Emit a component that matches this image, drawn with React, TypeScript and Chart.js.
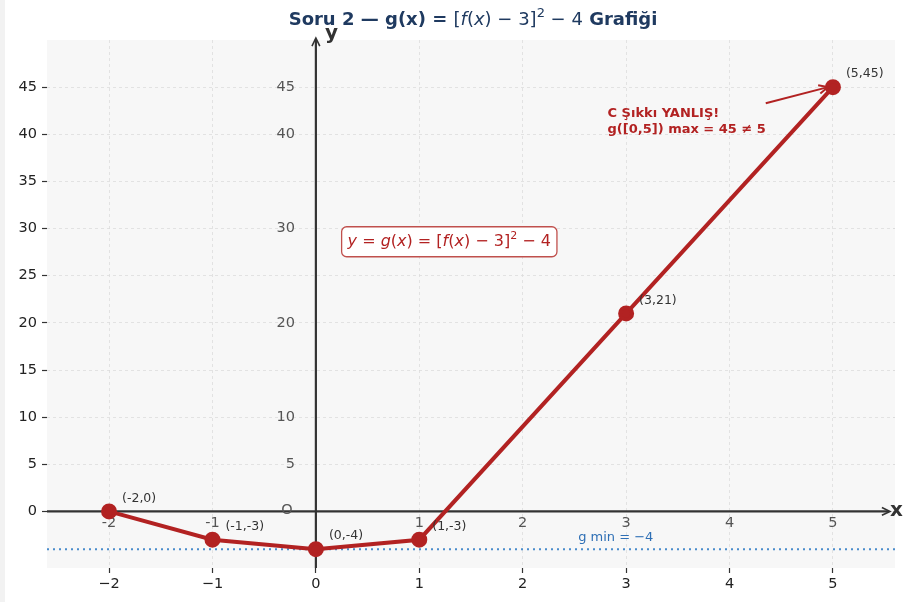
import React, { useEffect, useRef } from "react";
import { Chart, registerables } from "chart.js";
Chart.register(...registerables);

const xValues = [-2, -1, 0, 1, 3, 5];
const gValues = [0, -3, -4, -3, 21, 45];
const pointLabels = ["(-2,0)", "(-1,-3)", "(0,-4)", "(1,-3)", "(3,21)", "(5,45)"];
const xTicks = [-2, -1, 0, 1, 2, 3, 4, 5];
const yTicks = [0, 5, 10, 15, 20, 25, 30, 35, 40, 45];
const innerXLabels = [-2, -1, 1, 2, 3, 4, 5];
const innerYLabels = [5, 10, 20, 30, 40, 45];
const gMin = -4;
const xRange = [-2.6, 5.6];
const yRange = [-6, 50];
const annotationLines = ["C Şıkkı YANLIŞ!", "g([0,5]) max = 45 ≠ 5"];
const annotationPos = { x: 2.82, y: 42.2 };
const arrowTail = { x: 4.35, y: 43.3 };
const formulaPos = { x: 1.29, y: 28.6 };

const FAM = '"DejaVu Sans", sans-serif';
const RED = "#b22222";

type Part = { t: string; font: string; dy?: number };

function drawParts(ctx: CanvasRenderingContext2D, parts: Part[], cx: number, cy: number) {
  const widths = parts.map((p) => {
    ctx.font = p.font;
    return ctx.measureText(p.t).width;
  });
  const total = widths.reduce((a, b) => a + b, 0);
  let x = cx - total / 2;
  ctx.textAlign = "left";
  ctx.textBaseline = "middle";
  parts.forEach((p, i) => {
    ctx.font = p.font;
    ctx.fillText(p.t, x, cy + (p.dy || 0));
    x += widths[i];
  });
  return total;
}

function mathParts(size: number, leading: Part[], trailing: Part[], withY: boolean): Part[] {
  const r = `${size}px ${FAM}`;
  const it = `italic ${size}px ${FAM}`;
  const sup = `${Math.round(size * 0.7)}px ${FAM}`;
  const core: Part[] = [];
  if (withY) {
    core.push({ t: "y", font: it }, { t: " = ", font: r }, { t: "g", font: it }, { t: "(", font: r }, { t: "x", font: it }, { t: ") = ", font: r });
  }
  core.push(
    { t: "[", font: r },
    { t: "f", font: it },
    { t: "(", font: r },
    { t: "x", font: it },
    { t: ") − 3]", font: r },
    { t: "2", font: sup, dy: -size * 0.38 },
    { t: " − 4", font: r }
  );
  return [...leading, ...core, ...trailing];
}

function arrowHead(ctx: CanvasRenderingContext2D, x1: number, y1: number, x2: number, y2: number, len: number, filled: boolean) {
  const a = Math.atan2(y2 - y1, x2 - x1);
  const sp = 0.45;
  ctx.beginPath();
  ctx.moveTo(x2 - len * Math.cos(a - sp), y2 - len * Math.sin(a - sp));
  ctx.lineTo(x2, y2);
  ctx.lineTo(x2 - len * Math.cos(a + sp), y2 - len * Math.sin(a + sp));
  if (filled) {
    ctx.closePath();
    ctx.fill();
  } else ctx.stroke();
}

const overlay = {
  id: "overlay",
  beforeDraw(chart: any) {
    const { ctx, chartArea: ca } = chart;
    ctx.save();
    ctx.fillStyle = "#ffffff";
    ctx.fillRect(0, 0, chart.width, chart.height);
    ctx.fillStyle = "#f2f2f2";
    ctx.fillRect(0, 0, 5, chart.height);
    ctx.fillStyle = "#f7f7f7";
    ctx.fillRect(ca.left, ca.top, ca.right - ca.left, ca.bottom - ca.top);
    ctx.restore();
  },
  beforeDatasetsDraw(chart: any) {
    const { ctx, chartArea: ca, scales } = chart;
    const xs = scales.x, ys = scales.y;
    const ox = xs.getPixelForValue(0), oy = ys.getPixelForValue(0);
    ctx.save();
    ctx.strokeStyle = "#333333";
    ctx.fillStyle = "#333333";
    ctx.lineWidth = 2.2;
    ctx.beginPath();
    ctx.moveTo(ca.left, oy);
    ctx.lineTo(ca.right - 6, oy);
    ctx.stroke();
    ctx.lineWidth = 1.6;
    arrowHead(ctx, ca.left, oy, ca.right - 5, oy, 9, false);
    ctx.lineWidth = 2.2;
    ctx.beginPath();
    ctx.moveTo(ox, ca.bottom);
    ctx.lineTo(ox, ca.top - 1);
    ctx.stroke();
    ctx.lineWidth = 1.6;
    arrowHead(ctx, ox, ca.bottom, ox, ca.top - 2, 9, false);
    ctx.fillStyle = "#555555";
    ctx.font = `14.5px ${FAM}`;
    ctx.textAlign = "center";
    ctx.textBaseline = "middle";
    innerXLabels.forEach((v) => {
      ctx.fillText(String(v), xs.getPixelForValue(v), oy + 12);
    });
    ctx.textAlign = "right";
    innerYLabels.forEach((v) => {
      ctx.fillText(String(v), ox - 21, ys.getPixelForValue(v));
    });
    ctx.textAlign = "center";
    ctx.fillText("O", ox - 29, oy - 1);
    ctx.restore();
  },
  afterDatasetsDraw(chart: any) {
    const { ctx, chartArea: ca, scales } = chart;
    const xs = scales.x, ys = scales.y;
    const ox = xs.getPixelForValue(0), oy = ys.getPixelForValue(0);
    ctx.save();
    ctx.fillStyle = "#333333";
    ctx.font = `12.5px ${FAM}`;
    ctx.textAlign = "left";
    ctx.textBaseline = "middle";
    xValues.forEach((x, i) => {
      ctx.fillText(pointLabels[i], xs.getPixelForValue(x) + 13, ys.getPixelForValue(gValues[i]) - 13);
    });
    ctx.fillStyle = "#2e6fb5";
    ctx.font = `13px ${FAM}`;
    ctx.textAlign = "center";
    ctx.fillText("g min = −4", xs.getPixelForValue(2.9), ys.getPixelForValue(gMin) - 12);
    ctx.fillStyle = RED;
    ctx.font = `bold 13px ${FAM}`;
    ctx.textAlign = "left";
    const ax = xs.getPixelForValue(annotationPos.x), ay = ys.getPixelForValue(annotationPos.y);
    annotationLines.forEach((l, i) => ctx.fillText(l, ax, ay + i * 16));
    const tx = xs.getPixelForValue(arrowTail.x), ty = ys.getPixelForValue(arrowTail.y);
    const hx = xs.getPixelForValue(5) - 5, hy = ys.getPixelForValue(45);
    ctx.strokeStyle = RED;
    ctx.lineWidth = 2;
    ctx.beginPath();
    ctx.moveTo(tx, ty);
    ctx.lineTo(hx, hy);
    ctx.stroke();
    arrowHead(ctx, tx, ty, hx, hy, 10, false);
    const fx = xs.getPixelForValue(formulaPos.x), fy = ys.getPixelForValue(formulaPos.y);
    const fparts = mathParts(16, [], [], true);
    let w = 0;
    fparts.forEach((p) => { ctx.font = p.font; w += ctx.measureText(p.t).width; });
    const bw = w + 12, bh = 30;
    ctx.beginPath();
    ctx.roundRect(fx - bw / 2, fy - bh / 2, bw, bh, 5);
    ctx.fillStyle = "#ffffff";
    ctx.fill();
    ctx.strokeStyle = "#c0504d";
    ctx.lineWidth = 1.3;
    ctx.stroke();
    ctx.fillStyle = RED;
    drawParts(ctx, fparts, fx, fy);
    ctx.fillStyle = "#333333";
    ctx.font = `bold 20px ${FAM}`;
    ctx.textAlign = "left";
    ctx.textBaseline = "middle";
    ctx.fillText("x", ca.right - 5, oy - 1);
    ctx.fillText("y", ox + 9, ca.top - 6);
    ctx.fillStyle = "#1f3a60";
    const b = `bold 18px ${FAM}`;
    const tparts = mathParts(18, [{ t: "Soru 2 — g(x) = ", font: b }], [{ t: " Grafiği", font: b }], false);
    drawParts(ctx, tparts, 473, 20);
    ctx.restore();
  },
};

function fmt(v: number) {
  return v < 0 ? "\u2212" + Math.abs(v) : String(v);
}

export default function App() {
  const ref = useRef<HTMLCanvasElement>(null);
  useEffect(() => {
    const canvas = ref.current!;
    const chart = new Chart(canvas, {
      type: "line",
      data: {
        datasets: [
          {
            data: xValues.map((x, i) => ({ x, y: gValues[i] })),
            borderColor: RED,
            backgroundColor: RED,
            pointBackgroundColor: RED,
            pointBorderColor: RED,
            borderWidth: 4,
            pointRadius: 6,
            pointHoverRadius: 6,
            tension: 0,
          },
          {
            data: [
              { x: xRange[0], y: gMin },
              { x: xRange[1], y: gMin },
            ],
            borderColor: "#4a8ccc",
            borderWidth: 2,
            borderDash: [2, 4],
            pointRadius: 0,
          },
        ],
      },
      options: {
        animation: false,
        responsive: false,
        maintainAspectRatio: false,
        layout: { padding: { top: 40, right: 9, left: 0, bottom: 0 } },
        plugins: { legend: { display: false }, tooltip: { enabled: false }, title: { display: false } },
        scales: {
          x: {
            type: "linear",
            min: xRange[0],
            max: xRange[1],
            afterBuildTicks: (s: any) => {
              s.ticks = xTicks.map((v) => ({ value: v }));
            },
            afterFit: (s: any) => {
              s.height = 34;
            },
            grid: { color: "#dcdcdc", lineWidth: 0.8, tickColor: "#333333", tickLength: 5, tickWidth: 1.2 },
            border: { display: false, dash: [3, 3] },
            ticks: { color: "#222222", font: { family: FAM, size: 14.5 }, padding: 3, callback: (v: any) => fmt(Number(v)) },
          },
          y: {
            type: "linear",
            min: yRange[0],
            max: yRange[1],
            afterBuildTicks: (s: any) => {
              s.ticks = yTicks.map((v) => ({ value: v }));
            },
            afterFit: (s: any) => {
              s.width = 47;
            },
            grid: { color: "#dcdcdc", lineWidth: 0.8, tickColor: "#333333", tickLength: 5, tickWidth: 1.2 },
            border: { display: false, dash: [3, 3] },
            ticks: { color: "#222222", font: { family: FAM, size: 14.5 }, padding: 5, callback: (v: any) => fmt(Number(v)) },
          },
        },
      },
      plugins: [overlay],
    } as any);
    return () => chart.destroy();
  }, []);
  return (
    <div style={{ position: "absolute", left: 0, top: 0, width: 905, height: 602 }}>
      <canvas ref={ref} width={905} height={602} style={{ width: 905, height: 602, display: "block" }} />
    </div>
  );
}
